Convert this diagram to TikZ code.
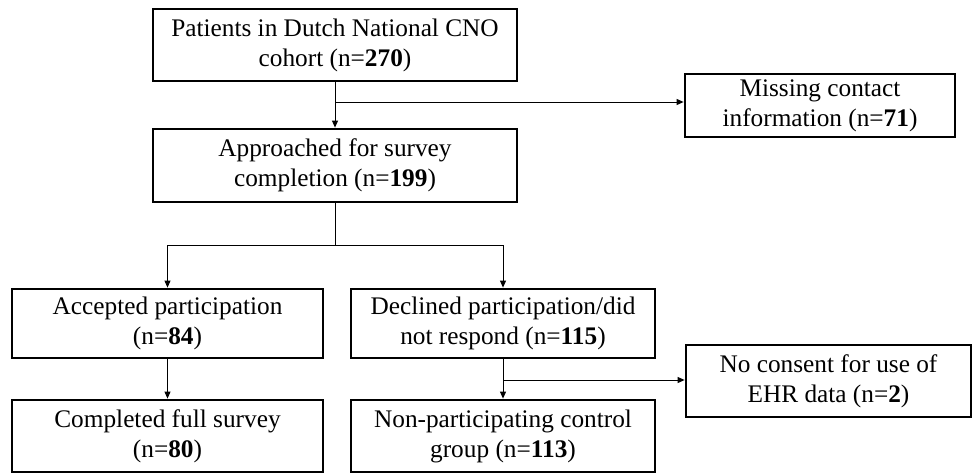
\documentclass[tikz,border=0pt]{standalone}
\usepackage{fontspec}
\setmainfont{Liberation Serif}
\usetikzlibrary{arrows.meta}
\begin{document}
\begin{tikzpicture}[x=1pt,y=-1pt,
 box/.style={draw, line width=2.8pt, align=center, font=\fontsize{25.3}{30}\selectfont, inner sep=0pt},
 conn/.style={line width=0.9pt, -{Triangle[length=7pt,width=6pt]}},
 ln/.style={line width=0.9pt}]
\useasboundingbox (0,0) rectangle (973,473);
\node[box, minimum width=364pt, minimum height=72pt] (p1) at (335,45) {Patients in Dutch National CNO\\cohort (n=\textbf{270})};
\node[box, minimum width=270pt, minimum height=63pt] (miss) at (820,105.5) {Missing contact\\information (n=\textbf{71})};
\node[box, minimum width=364pt, minimum height=73pt] (p2) at (335,165.5) {Approached for survey\\completion (n=\textbf{199})};
\node[box, minimum width=311pt, minimum height=69pt] (acc) at (167.5,323.5) {Accepted participation\\(n=\textbf{84})};
\node[box, minimum width=304pt, minimum height=69pt] (dec) at (503,323.5) {Declined participation/did\\not respond (n=\textbf{115})};
\node[box, minimum width=311pt, minimum height=72pt] (comp) at (167.5,436) {Completed full survey\\(n=\textbf{80})};
\node[box, minimum width=304pt, minimum height=72pt] (non) at (503,436) {Non-participating control\\group (n=\textbf{113})};
\node[box, minimum width=285pt, minimum height=72pt] (nocons) at (828.5,381) {No consent for use of\\EHR data (n=\textbf{2})};
\coordinate (b1) at (335,102);
\coordinate (s) at (335,245);
\coordinate (b2) at (503,380);
\draw[conn] (p1.south) -- (p2.north);
\draw[conn] (b1) -- (b1 -| miss.west);
\draw[ln] (p2.south) -- (s);
\draw[conn] (s) -| (acc.north);
\draw[conn] (s) -| (dec.north);
\draw[conn] (acc.south) -- (comp.north);
\draw[conn] (dec.south) -- (non.north);
\draw[conn] (b2) -- (b2 -| nocons.west);
\end{tikzpicture}
\end{document}
